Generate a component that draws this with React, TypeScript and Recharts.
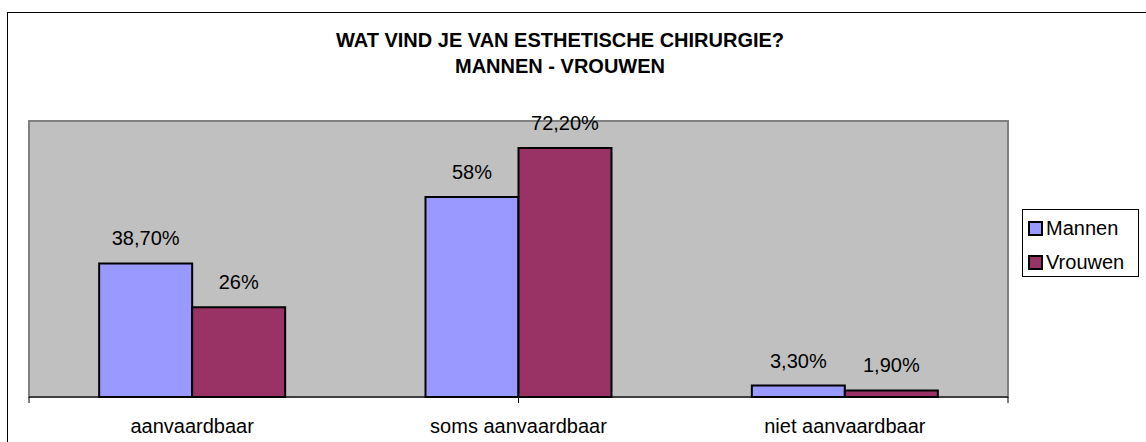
import { Bar, BarChart, LabelList, ReferenceArea, XAxis, YAxis } from 'recharts';

const categories = ['aanvaardbaar', 'soms aanvaardbaar', 'niet aanvaardbaar'];
const mannen = [38.7, 58, 3.3];
const vrouwen = [26, 72.2, 1.9];
const seriesNames = ['Mannen', 'Vrouwen'];
const titleLines = ['WAT VIND JE VAN ESTHETISCHE CHIRURGIE?', 'MANNEN - VROUWEN'];
const boundaryTicks = [0, 1, 2, 3];

const COLORS = ['#9999ff', '#993366'];
const FONT = '"Liberation Sans", Arial, sans-serif';

const data = categories.map((name, i) => ({ name, mannen: mannen[i], vrouwen: vrouwen[i] }));

// excel style: whole numbers bare, others with two decimals and a comma
const formatPct = (v: number) =>
  Number.isInteger(v) ? `${v}%` : `${v.toFixed(2).replace('.', ',')}%`;

const labelStyle = { fontFamily: FONT, fontSize: 20, fill: '#000' };

export default function App() {
  return (
    <div style={{ position: 'absolute', left: 0, top: 0, width: 1146, height: 442, background: '#fff', fontFamily: FONT }}>
      <div
        style={{
          position: 'absolute',
          left: 7,
          top: 12,
          right: 0,
          bottom: 0,
          borderTop: '1px solid #000',
          borderLeft: '1px solid #000',
        }}
      />
      <div
        style={{
          position: 'absolute',
          left: 7,
          top: 27,
          width: 1106,
          textAlign: 'center',
          fontWeight: 'bold',
          fontSize: 20,
          lineHeight: '26px',
          color: '#000',
        }}
      >
        {titleLines.map((t) => (
          <div key={t}>{t}</div>
        ))}
      </div>

      <div style={{ position: 'absolute', left: 0, top: 0 }}>
        <BarChart
          width={1146}
          height={442}
          data={data}
          margin={{ top: 121, right: 138, bottom: 0, left: 29 }}
          barCategoryGap="21.5%"
          barGap={0}
        >
          {/* tick marks sit on the category boundaries, like excel */}
          <XAxis
            type="number"
            domain={[0, 3]}
            ticks={boundaryTicks}
            height={1}
            axisLine={{ stroke: '#000', strokeWidth: 1 }}
            tickSize={6}
            tickLine={{ stroke: '#000' }}
            tickFormatter={() => ''}
          />
          <XAxis
            xAxisId="cat"
            dataKey="name"
            height={44}
            axisLine={false}
            tickLine={false}
            tickSize={0}
            tickMargin={21}
            tick={labelStyle}
            interval={0}
          />
          <YAxis hide domain={[0, 80]} />
          <ReferenceArea y1={0} y2={80} fill="#c0c0c0" fillOpacity={1} stroke="#808080" strokeWidth={2} />
          <Bar xAxisId="cat" dataKey="mannen" name={seriesNames[0]} fill={COLORS[0]} stroke="#000" strokeWidth={2} isAnimationActive={false}>
            <LabelList dataKey="mannen" position="top" offset={18} formatter={(v: any) => formatPct(Number(v))} style={labelStyle} />
          </Bar>
          <Bar xAxisId="cat" dataKey="vrouwen" name={seriesNames[1]} fill={COLORS[1]} stroke="#000" strokeWidth={2} isAnimationActive={false}>
            <LabelList dataKey="vrouwen" position="top" offset={18} formatter={(v: any) => formatPct(Number(v))} style={labelStyle} />
          </Bar>
        </BarChart>
      </div>

      <div
        style={{
          position: 'absolute',
          left: 1022,
          top: 209,
          width: 115,
          height: 66,
          border: '1px solid #000',
          background: '#fff',
        }}
      >
        {seriesNames.map((n, i) => (
          <div key={n} style={{ position: 'absolute', left: 5, top: 6 + i * 34, display: 'flex', alignItems: 'center', height: 24 }}>
            <span style={{ width: 11, height: 11, background: COLORS[i], border: '2px solid #000', display: 'inline-block' }} />
            <span style={{ marginLeft: 3, fontSize: 20, color: '#000' }}>{n}</span>
          </div>
        ))}
      </div>
    </div>
  );
}
